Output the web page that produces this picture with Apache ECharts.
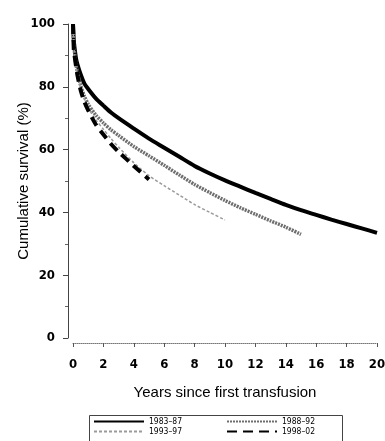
<!DOCTYPE html>
<html>
<head>
<meta charset="utf-8">
<script src="https://cdn.jsdelivr.net/npm/echarts@6/dist/echarts.min.js"></script>
<style>
  html, body { margin: 0; padding: 0; background: #fff; }
  #chart { width: 385px; height: 441px; }
</style>
</head>
<body>
<div id="chart"></div>
<script>
// Cumulative survival by period of first transfusion
const years = [0, 0.05, 0.1, 0.2, 0.3, 0.5, 0.75, 1, 1.5, 2, 2.5, 3, 4, 5, 6, 7, 8, 9, 10, 11, 12, 13, 14, 15, 16, 17, 18, 19, 20];
const xTicks = [0, 2, 4, 6, 8, 10, 12, 14, 16, 18, 20];

const surv8387 = [100, 95, 92.5, 89, 87, 84, 81, 79.3, 76.3, 74, 71.8, 70, 66.7, 63.5, 60.6, 57.7, 54.8, 52.4, 50.2, 48.2, 46.2, 44.3, 42.4, 40.7, 39.2, 37.7, 36.3, 34.9, 33.5];
const surv8892 = [100, 94, 91, 87, 84.5, 80.5, 77, 74.5, 71, 68.5, 66.3, 64.5, 61, 58, 55, 51.9, 48.9, 46.3, 43.8, 41.5, 39.4, 37.3, 35.3, 33];
const surv9397 = [100, 93.5, 90, 86, 83.5, 79.5, 76, 73.3, 69.5, 66.5, 63.5, 60.8, 55.8, 51.7, 48.5, 45.5, 42.5, 40, 37.6];
const surv9802 = [100, 92, 90, 86.5, 83.5, 79, 75.2, 72.5, 68, 64.8, 61.8, 59.3, 54.8, 50.5];

const periods = ["1983\u201387", "1988\u201392", "1993\u201397", "1998\u201302"];

const NARROW = "'Liberation Sans Narrow', 'DejaVu Sans Condensed', 'Liberation Sans', sans-serif";
const SANS = "'Liberation Sans', Arial, sans-serif";

function pairs(vals) {
  return vals.map((v, i) => [years[i], v]);
}

function line(name, vals, color, lineStyle) {
  return {
    name,
    type: "line",
    data: pairs(vals),
    symbol: "none",
    smooth: 0.25,
    animation: false,
    itemStyle: { color },
    lineStyle: Object.assign({ color }, lineStyle),
  };
}

const legendBase = {
  left: 93,
  padding: 0,
  itemWidth: 50,
  itemHeight: 5,
  itemGap: 44,
  itemStyle: { opacity: 0 },
  textStyle: { fontSize: 8.5, color: "#000", fontFamily: NARROW },
};

const chart = echarts.init(document.getElementById("chart"), null, { renderer: "canvas" });

chart.setOption({
  animation: false,
  backgroundColor: "#fff",
  textStyle: { fontFamily: SANS },
  grid: { left: 73, right: 8, top: 24, bottom: 103, containLabel: false, outerBoundsMode: "none" },
  xAxis: {
    type: "value",
    min: 0,
    max: 20,
    interval: 2,
    offset: 5,
    name: "Years since first transfusion",
    nameLocation: "middle",
    nameGap: 42,
    nameMoveOverlap: false,
    nameTextStyle: { color: "#000", fontSize: 15, fontFamily: SANS },
    axisLine: { show: true, onZero: false, lineStyle: { color: "#777", width: 1, type: [1, 1] } },
    axisTick: { show: true, length: 4, lineStyle: { color: "#555" } },
    axisLabel: { color: "#000", fontSize: 13, fontWeight: "bold", fontFamily: NARROW, margin: 15,
      formatter: (v) => (xTicks.includes(v) ? String(v) : "") },
    splitLine: { show: false },
  },
  yAxis: {
    type: "value",
    min: 0,
    max: 100,
    interval: 20,
    offset: 5,
    name: "Cumulative survival (%)",
    nameLocation: "middle",
    nameGap: 37,
    nameMoveOverlap: false,
    nameRotate: 90,
    nameTextStyle: { color: "#000", fontSize: 15, fontFamily: SANS },
    axisLine: { show: true, onZero: false, lineStyle: { color: "#444", width: 1 } },
    axisTick: { show: true, length: 5, lineStyle: { color: "#444" } },
    minorTick: { show: true, splitNumber: 2, length: 3, lineStyle: { color: "#666" } },
    axisLabel: { color: "#000", fontSize: 13, fontWeight: "bold", fontFamily: NARROW, margin: 13 },
    splitLine: { show: false },
  },
  legend: [
    Object.assign({ data: [periods[0], periods[1]], top: 417 }, legendBase),
    Object.assign({ data: [periods[2], periods[3]], top: 427 }, legendBase),
  ],
  graphic: [
    {
      type: "rect",
      left: 87,
      top: 413,
      shape: { width: 253, height: 40 },
      style: { fill: "none", stroke: "#444", lineWidth: 1 },
      silent: true,
    },
  ],
  series: [
    line(periods[0], surv8387, "#000", { width: 4 }),
    line(periods[1], surv8892, "#6e6e6e", { width: 3.5, type: [2, 1] }),
    line(periods[2], surv9397, "#9a9a9a", { width: 1.5, type: [3, 2] }),
    line(periods[3], surv9802, "#000", { width: 4, type: [10, 6] }),
  ],
});
</script>
</body>
</html>
